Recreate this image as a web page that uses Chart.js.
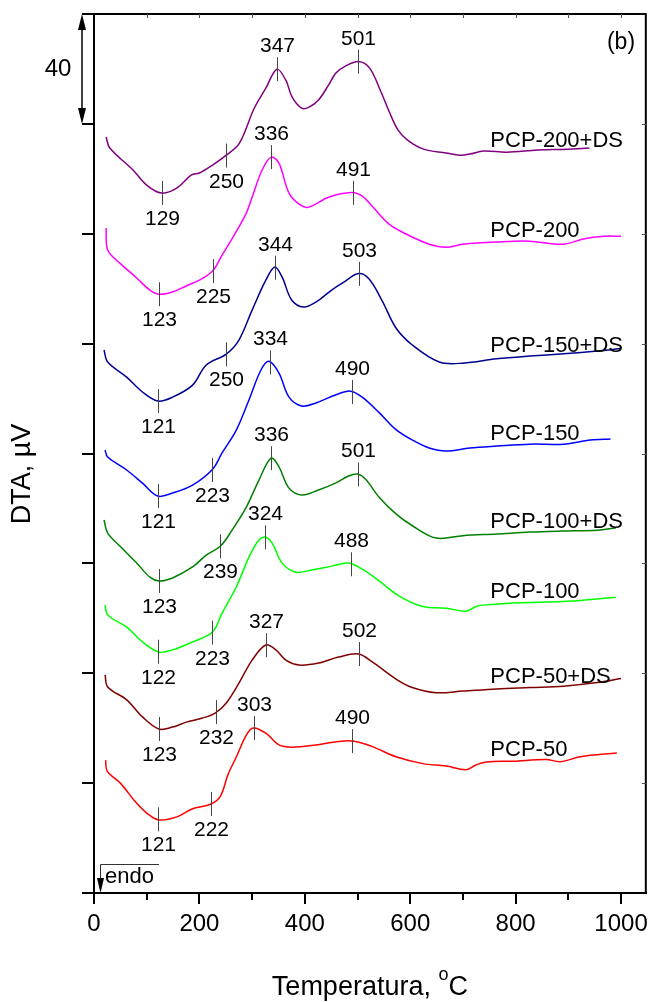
<!DOCTYPE html>
<html>
<head>
<meta charset="utf-8">
<script src="https://cdn.jsdelivr.net/npm/chart.js@4.4.1/dist/chart.umd.min.js"></script>
<style>
  html, body { margin: 0; padding: 0; background: #fff; }
  canvas { display: block; }
</style>
</head>
<body>
<canvas id="dta" width="654" height="1002"></canvas>
<script>
// temperature (oC) and stacked DTA signal (uV)
const tPCP200DS = [23, 30, 74, 100, 128, 157, 185, 200, 225, 251, 276, 304, 326, 347, 364, 376, 394, 408, 426, 445, 459, 477, 502, 523, 544, 560, 577, 595, 625, 668, 694, 713, 739, 783, 842, 898, 940];
const yPCP200DS = [275.2, 271.2, 263.2, 257.7, 254.8, 256.6, 261.4, 262.1, 265.0, 268.6, 273.0, 285.7, 293.0, 299.9, 295.9, 289.7, 285.7, 286.1, 288.7, 294.1, 298.5, 301.0, 302.7, 300.3, 291.9, 284.5, 277.7, 274.1, 270.8, 269.4, 268.6, 269.0, 270.1, 269.7, 270.5, 270.8, 271.2];

const tPCP200 = [23, 26, 49, 81, 106, 123, 149, 175, 200, 225, 243, 266, 289, 300, 319, 336, 351, 370, 392, 408, 445, 489, 509, 528, 560, 592, 636, 668, 700, 764, 826, 891, 928, 968, 1000];
const yPCP200 = [242.1, 234.1, 229.3, 223.9, 219.5, 218.0, 218.8, 221.0, 223.1, 226.4, 232.2, 239.5, 247.5, 253.3, 263.2, 267.9, 265.7, 254.8, 250.4, 249.7, 253.3, 255.0, 253.7, 250.0, 243.5, 239.9, 236.2, 235.1, 236.2, 237.0, 237.3, 236.2, 238.1, 239.1, 239.1];

const tPCP150DS = [19, 26, 62, 92, 121, 149, 187, 213, 251, 275, 300, 326, 343, 357, 375, 398, 421, 451, 471, 502, 522, 547, 573, 604, 655, 700, 764, 827, 891, 955, 1000];
const yPCP150DS = [197.7, 193.3, 187.8, 182.4, 179.1, 180.5, 184.9, 192.2, 196.2, 201.3, 212.2, 223.1, 227.9, 224.2, 215.9, 213.3, 215.1, 219.5, 222.0, 225.5, 223.5, 215.5, 205.7, 199.5, 193.3, 192.9, 194.5, 195.5, 196.3, 197.3, 198.2];

const tPCP150 = [21, 26, 62, 92, 121, 149, 187, 225, 243, 270, 294, 317, 332, 351, 370, 394, 421, 458, 487, 509, 542, 573, 604, 636, 668, 713, 764, 827, 891, 942, 980];
const yPCP150 = [161.3, 158.7, 154.0, 149.2, 144.5, 145.6, 148.5, 154.3, 160.2, 168.5, 179.5, 190.5, 193.6, 189.3, 180.5, 177.3, 178.4, 181.3, 182.7, 180.5, 174.7, 168.7, 164.9, 162.0, 160.9, 162.0, 162.7, 163.4, 163.4, 164.9, 165.3];

const tPCP100DS = [19, 26, 53, 81, 106, 123, 149, 187, 213, 240, 262, 289, 313, 336, 351, 370, 394, 426, 458, 483, 500, 515, 541, 573, 604, 649, 700, 764, 827, 891, 955, 990];
const yPCP100DS = [135.8, 131.0, 125.6, 120.1, 115.0, 113.6, 114.7, 118.7, 123.0, 126.3, 132.1, 140.5, 150.3, 158.3, 155.1, 147.4, 144.9, 146.7, 149.2, 151.8, 152.5, 150.7, 144.1, 138.0, 133.7, 129.2, 130.1, 130.7, 131.4, 131.8, 132.1, 132.9];

const tPCP100 = [21, 26, 62, 92, 123, 149, 187, 225, 243, 270, 294, 313, 325, 338, 357, 383, 413, 451, 483, 509, 541, 579, 624, 668, 706, 725, 738, 795, 858, 923, 990];
const yPCP100 = [104.8, 101.2, 96.8, 91.4, 87.7, 88.5, 91.4, 95.0, 101.9, 111.4, 122.3, 128.5, 129.6, 127.4, 120.1, 116.8, 117.6, 119.0, 120.1, 117.9, 113.6, 108.1, 104.3, 103.7, 102.6, 104.3, 104.8, 105.6, 105.9, 106.5, 107.7];

const tPCP50DS = [21, 26, 62, 92, 123, 149, 175, 206, 230, 251, 275, 300, 326, 345, 364, 389, 426, 464, 502, 528, 573, 604, 649, 700, 764, 827, 891, 955, 1000];
const yPCP50DS = [79.4, 75.0, 70.3, 64.1, 59.7, 60.4, 62.2, 63.7, 65.5, 69.2, 76.4, 84.8, 90.3, 88.5, 84.8, 83.0, 83.7, 85.9, 87.0, 84.1, 77.9, 74.8, 72.9, 73.5, 74.3, 74.8, 75.3, 76.6, 78.1];

const tPCP50 = [22, 25, 50, 79, 100, 123, 157, 186, 222, 240, 254, 270, 289, 302, 326, 351, 376, 421, 458, 491, 528, 573, 624, 668, 706, 725, 745, 795, 858, 885, 923, 992];
const yPCP50 = [48.4, 44.4, 40.0, 33.1, 29.1, 26.6, 27.7, 30.6, 32.4, 35.3, 43.0, 49.5, 57.5, 60.1, 58.2, 53.9, 53.1, 53.9, 55.0, 55.3, 53.3, 49.6, 47.1, 46.2, 44.9, 46.6, 47.7, 48.0, 48.6, 47.8, 49.6, 51.0];

// marked temperatures: first two labelled below the curve, last two above
const mkPCP200DS = [129, 250, 347, 501];
const mkPCP200 = [123, 225, 336, 491];
const mkPCP150DS = [121, 250, 344, 503];
const mkPCP150 = [121, 223, 334, 490];
const mkPCP100DS = [123, 239, 336, 501];
const mkPCP100 = [122, 223, 324, 488];
const mkPCP50DS = [123, 232, 327, 502];
const mkPCP50 = [121, 222, 303, 490];

const names = ['PCP-200+DS', 'PCP-200', 'PCP-150+DS', 'PCP-150', 'PCP-100+DS', 'PCP-100', 'PCP-50+DS', 'PCP-50'];
const temps = [tPCP200DS, tPCP200, tPCP150DS, tPCP150, tPCP100DS, tPCP100, tPCP50DS, tPCP50];
const signals = [yPCP200DS, yPCP200, yPCP150DS, yPCP150, yPCP100DS, yPCP100, yPCP50DS, yPCP50];
const marks = [mkPCP200DS, mkPCP200, mkPCP150DS, mkPCP150, mkPCP100DS, mkPCP100, mkPCP50DS, mkPCP50];
const colors = ['#800080', '#ff00ff', '#000090', '#0000ff', '#008000', '#00ff00', '#800000', '#ff0000'];

const xTicks = [0, 200, 400, 600, 800, 1000];
const scaleBar = 40;
const labelAt = 752; // temperature where series names start
const FONT = '"Liberation Sans", Arial, sans-serif';

function valueAt(ts, ys, t) {
  for (let i = 1; i < ts.length; i++) {
    if (t <= ts[i]) {
      const f = (t - ts[i - 1]) / (ts[i] - ts[i - 1]);
      return ys[i - 1] + f * (ys[i] - ys[i - 1]);
    }
  }
  return ys[ys.length - 1];
}

const annotate = {
  id: 'annotate',
  afterDraw(chart) {
    const { ctx, chartArea: a, scales: { x, y } } = chart;
    ctx.save();

    // top and right frame with small inner ticks
    ctx.strokeStyle = '#000';
    ctx.lineWidth = 2;
    ctx.beginPath();
    ctx.moveTo(a.left, a.top);
    ctx.lineTo(a.right, a.top);
    ctx.lineTo(a.right, a.bottom);
    ctx.stroke();
    ctx.lineWidth = 1;
    ctx.strokeStyle = '#555';
    ctx.beginPath();
    for (let t = 100; t <= 1000; t += 100) {
      const px = Math.round(x.getPixelForValue(t)) + 0.5;
      ctx.moveTo(px, a.top);
      ctx.lineTo(px, a.top + 4);
    }
    for (let v = 40; v < 320; v += 40) {
      const py = Math.round(y.getPixelForValue(v)) + 0.5;
      ctx.moveTo(a.right, py);
      ctx.lineTo(a.right - 4, py);
    }
    ctx.stroke();

    // minor ticks on the bottom axis
    ctx.strokeStyle = '#000';
    ctx.lineWidth = 2;
    ctx.beginPath();
    for (let t = 100; t <= 900; t += 200) {
      const px = Math.round(x.getPixelForValue(t));
      ctx.moveTo(px, a.bottom);
      ctx.lineTo(px, a.bottom + 7);
    }
    ctx.stroke();

    // peak markers and their temperatures
    ctx.fillStyle = '#000';
    ctx.textAlign = 'center';
    ctx.textBaseline = 'alphabetic';
    ctx.font = '21px ' + FONT;
    marks.forEach((list, s) => {
      list.forEach((t, k) => {
        const px = Math.round(x.getPixelForValue(t)) + 0.5;
        const py = y.getPixelForValue(valueAt(temps[s], signals[s], t));
        ctx.strokeStyle = '#444';
        ctx.lineWidth = 1;
        ctx.beginPath();
        ctx.moveTo(px, py - 12);
        ctx.lineTo(px, py + 12);
        ctx.stroke();
        if (k < 2) ctx.fillText(String(t), px, py + 32);
        else ctx.fillText(String(t), px, py - 17);
      });
    });

    // series names
    ctx.textAlign = 'left';
    ctx.font = '22px ' + FONT;
    names.forEach((n, s) => {
      const py = y.getPixelForValue(valueAt(temps[s], signals[s], 800));
      ctx.fillText(n, x.getPixelForValue(labelAt), py - 5);
    });

    // panel letter
    ctx.textAlign = 'center';
    ctx.textBaseline = 'middle';
    ctx.font = '23px ' + FONT;
    ctx.fillText('(b)', 621, 43);

    // 40 uV scale bar
    const bx = a.left - 12;
    const b0 = y.getPixelForValue(320), b1 = y.getPixelForValue(320 - scaleBar);
    ctx.strokeStyle = '#000';
    ctx.lineWidth = 1.5;
    ctx.beginPath();
    ctx.moveTo(bx, b0 + 4);
    ctx.lineTo(bx, b1 - 4);
    ctx.stroke();
    ctx.beginPath();
    ctx.moveTo(bx, b0); ctx.lineTo(bx - 4, b0 + 16); ctx.lineTo(bx + 4, b0 + 16); ctx.closePath();
    ctx.moveTo(bx, b1); ctx.lineTo(bx - 4, b1 - 16); ctx.lineTo(bx + 4, b1 - 16); ctx.closePath();
    ctx.fill();
    ctx.font = '24px ' + FONT;
    ctx.fillText(String(scaleBar), 58, (b0 + b1) / 2);

    // endo arrow
    const ex = a.left + 6;
    ctx.strokeStyle = '#333';
    ctx.lineWidth = 1;
    ctx.beginPath();
    ctx.moveTo(ex + 59, a.bottom - 28.5);
    ctx.lineTo(ex + 0.5, a.bottom - 28.5);
    ctx.lineTo(ex + 0.5, a.bottom - 10);
    ctx.stroke();
    ctx.beginPath();
    ctx.moveTo(ex + 0.5, a.bottom);
    ctx.lineTo(ex - 3, a.bottom - 15);
    ctx.lineTo(ex + 4, a.bottom - 15);
    ctx.closePath();
    ctx.fill();
    ctx.textAlign = 'left';
    ctx.font = '22px ' + FONT;
    ctx.fillText('endo', ex + 5, a.bottom - 16);

    // axis titles
    ctx.textBaseline = 'alphabetic';
    const p1 = 'Temperatura, ';
    ctx.font = '27px ' + FONT;
    const w1 = ctx.measureText(p1).width;
    ctx.font = '18px ' + FONT;
    const w2 = ctx.measureText('o').width;
    ctx.font = '27px ' + FONT;
    const w3 = ctx.measureText('C').width;
    const tx = (a.left + a.right) / 2 - (w1 + w2 + w3) / 2;
    ctx.fillText(p1, tx, 995);
    ctx.font = '18px ' + FONT;
    ctx.fillText('o', tx + w1, 980);
    ctx.font = '27px ' + FONT;
    ctx.fillText('C', tx + w1 + w2, 995);

    ctx.translate(23, 474);
    ctx.rotate(-Math.PI / 2);
    ctx.textAlign = 'center';
    ctx.textBaseline = 'middle';
    ctx.fillText('DTA, \u00b5V', 0, 0);
    ctx.restore();
  }
};

new Chart(document.getElementById('dta'), {
  type: 'line',
  data: {
    datasets: names.map((n, s) => ({
      label: n,
      data: temps[s].map((t, i) => ({ x: t, y: signals[s][i] })),
      borderColor: colors[s],
      borderWidth: 1.5,
      pointRadius: 0,
      fill: false,
      tension: 0.35
    }))
  },
  options: {
    responsive: false,
    animation: false,
    events: [],
    layout: { padding: { top: 14, right: 6, left: 0, bottom: 0 } },
    plugins: { legend: { display: false }, tooltip: { enabled: false } },
    scales: {
      x: {
        type: 'linear',
        min: 0,
        max: 1047,
        afterFit(s) { s.height = 109; },
        afterBuildTicks(s) { s.ticks = xTicks.map(v => ({ value: v })); },
        ticks: {
          color: '#000',
          font: { family: FONT, size: 24 },
          padding: 6,
          maxRotation: 0,
          callback: v => String(v)
        },
        grid: { drawOnChartArea: false, tickLength: 11, color: '#000', lineWidth: 2 },
        border: { color: '#000', width: 2 }
      },
      y: {
        min: 0,
        max: 320,
        afterFit(s) { s.width = 94; },
        ticks: { stepSize: 40, display: false },
        grid: { drawOnChartArea: false, tickLength: 12, color: '#000', lineWidth: 2 },
        border: { color: '#000', width: 2 }
      }
    }
  },
  plugins: [annotate]
});
</script>
</body>
</html>
